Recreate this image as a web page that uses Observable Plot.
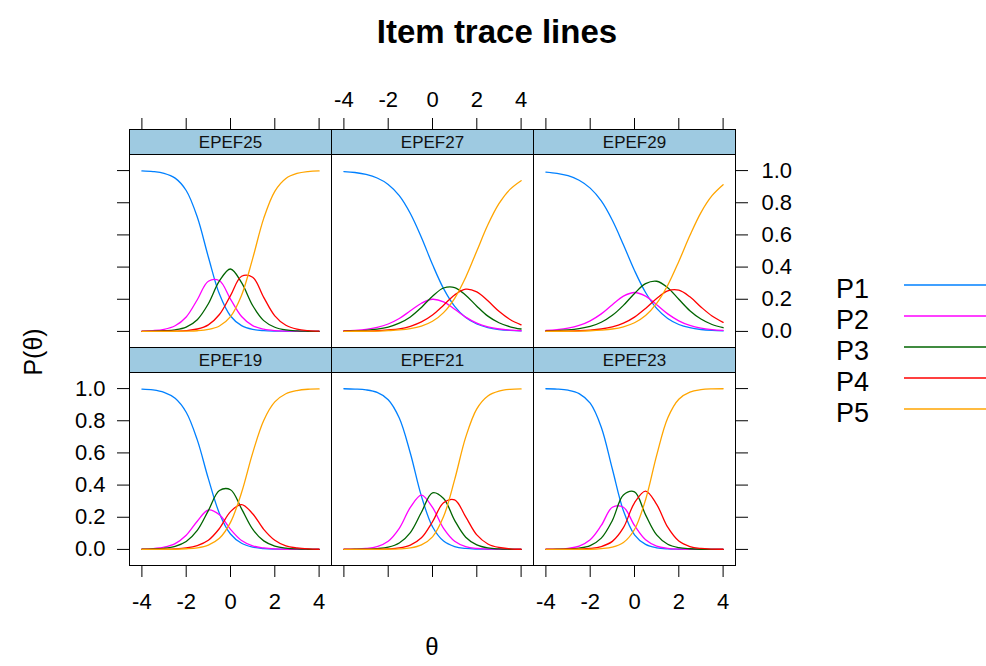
<!DOCTYPE html>
<html>
<head>
<meta charset="utf-8">
<script src="https://cdn.jsdelivr.net/npm/d3@7"></script>
<script src="https://cdn.jsdelivr.net/npm/@observablehq/plot@0.6"></script>
<style>
  body { margin: 0; background: #fff; }
  #fig { position: relative; width: 986px; height: 666px; overflow: hidden;
         font-family: "Liberation Sans", Arial, Helvetica, sans-serif; color: #000; }
  #fig svg { position: absolute; overflow: visible; }
</style>
</head>
<body>
<div id="fig"></div>
<script>
// Ability grid on which the trace lines are tabulated
const theta = [-4, -3.5, -3, -2.5, -2, -1.5, -1, -0.5, 0, 0.5, 1, 1.5, 2, 2.5, 3, 3.5, 4];
const categories = ["P1", "P2", "P3", "P4", "P5"];
const lineColors = ["#0080ff", "#ff00ff", "#006400", "#ff0000", "#ffa500"];
const xTicks = [-4, -2, 0, 2, 4];
const yTicks = [0, 0.2, 0.4, 0.6, 0.8, 1];

// Panel arrangement (rows top to bottom)
const panelRows = [["EPEF25", "EPEF27", "EPEF29"], ["EPEF19", "EPEF21", "EPEF23"]];

// Category response probabilities per item
const EPEF25 = {
  P1: [0.998,0.994,0.983,0.953,0.876,0.711,0.463,0.232,0.096,0.036,0.013,0.005,0.002,0.001,0,0,0],
  P2: [0.002,0.005,0.013,0.035,0.090,0.197,0.312,0.315,0.201,0.093,0.036,0.014,0.005,0.002,0.001,0,0],
  P3: [0,0.001,0.004,0.010,0.027,0.073,0.172,0.314,0.388,0.303,0.161,0.067,0.026,0.009,0.003,0.001,0],
  P4: [0,0,0.001,0.002,0.005,0.015,0.041,0.105,0.223,0.343,0.337,0.212,0.097,0.038,0.014,0.005,0.002],
  P5: [0,0,0,0.001,0.002,0.004,0.012,0.034,0.092,0.225,0.453,0.703,0.871,0.951,0.982,0.994,0.998]
};
const EPEF27 = {
  P1: [0.994,0.988,0.976,0.954,0.914,0.844,0.733,0.584,0.416,0.266,0.156,0.086,0.046,0.024,0.012,0.006,0.003],
  P2: [0.004,0.007,0.013,0.025,0.046,0.080,0.128,0.175,0.200,0.184,0.138,0.089,0.051,0.028,0.015,0.008,0.004],
  P3: [0.002,0.004,0.007,0.014,0.027,0.051,0.090,0.149,0.219,0.270,0.273,0.225,0.157,0.095,0.054,0.029,0.015],
  P4: [0.001,0.001,0.002,0.004,0.009,0.016,0.032,0.059,0.102,0.163,0.227,0.263,0.246,0.190,0.125,0.074,0.041],
  P5: [0,0.001,0.001,0.002,0.005,0.009,0.017,0.033,0.063,0.117,0.206,0.337,0.500,0.663,0.794,0.883,0.937]
};
const EPEF29 = {
  P1: [0.991,0.983,0.968,0.940,0.891,0.811,0.691,0.539,0.379,0.242,0.143,0.080,0.043,0.023,0.012,0.006,0.003],
  P2: [0.006,0.011,0.020,0.037,0.066,0.109,0.166,0.219,0.242,0.219,0.166,0.109,0.066,0.037,0.020,0.011,0.006],
  P3: [0.003,0.005,0.009,0.017,0.031,0.057,0.100,0.162,0.236,0.297,0.312,0.272,0.200,0.129,0.077,0.043,0.023],
  P4: [0.001,0.001,0.002,0.004,0.008,0.015,0.028,0.051,0.089,0.143,0.205,0.252,0.256,0.215,0.152,0.096,0.056],
  P5: [0,0.001,0.001,0.002,0.004,0.008,0.015,0.029,0.054,0.099,0.174,0.287,0.435,0.596,0.739,0.844,0.912]
};
const EPEF19 = {
  P1: [0.997,0.992,0.977,0.940,0.853,0.681,0.440,0.224,0.096,0.038,0.014,0.005,0.002,0.001,0,0,0],
  P2: [0.002,0.005,0.014,0.036,0.088,0.175,0.245,0.215,0.125,0.055,0.022,0.009,0.003,0.001,0.001,0,0],
  P3: [0.001,0.003,0.007,0.019,0.049,0.118,0.241,0.366,0.371,0.252,0.126,0.053,0.021,0.008,0.003,0.001,0],
  P4: [0,0,0.001,0.003,0.009,0.024,0.057,0.130,0.235,0.278,0.222,0.125,0.057,0.022,0.009,0.003,0.001],
  P5: [0,0,0.001,0.001,0.004,0.010,0.027,0.069,0.168,0.354,0.599,0.802,0.917,0.968,0.988,0.996,0.998]
};
const EPEF21 = {
  P1: [0.999,0.997,0.992,0.976,0.931,0.817,0.598,0.331,0.141,0.052,0.018,0.006,0.002,0.001,0,0,0],
  P2: [0.001,0.002,0.006,0.018,0.051,0.131,0.261,0.338,0.261,0.131,0.051,0.018,0.006,0.002,0.001,0,0],
  P3: [0,0.001,0.002,0.005,0.014,0.040,0.105,0.231,0.352,0.317,0.181,0.076,0.028,0.009,0.003,0.001,0],
  P4: [0,0,0,0.001,0.003,0.009,0.027,0.072,0.172,0.290,0.308,0.202,0.090,0.034,0.012,0.004,0.001],
  P5: [0,0,0,0,0.001,0.003,0.009,0.028,0.078,0.204,0.434,0.698,0.874,0.954,0.984,0.995,0.998]
};
const EPEF23 = {
  P1: [0.999,0.997,0.990,0.969,0.909,0.760,0.500,0.240,0.091,0.031,0.010,0.003,0.001,0,0,0,0],
  P2: [0.001,0.002,0.007,0.021,0.060,0.149,0.262,0.262,0.149,0.060,0.021,0.007,0.002,0.001,0,0,0],
  P3: [0,0.001,0.003,0.008,0.024,0.070,0.180,0.338,0.358,0.215,0.090,0.032,0.011,0.004,0.001,0,0],
  P4: [0,0,0.001,0.002,0.006,0.018,0.050,0.135,0.290,0.362,0.280,0.138,0.052,0.018,0.006,0.002,0.001],
  P5: [0,0,0,0.001,0.001,0.005,0.014,0.043,0.124,0.309,0.585,0.817,0.934,0.978,0.993,0.998,0.999]
};
const items = { EPEF25, EPEF27, EPEF29, EPEF19, EPEF21, EPEF23 };

// Trellis geometry (pixels)
const gridLeft = 129, gridTop = 129;
const panelW = 202, stripH = 25, panelH = 193;
const M = { top: 60, right: 80, bottom: 70, left: 80 };
const tickFont = 22;

const fig = document.getElementById("fig");

function tidy(name) {
  const d = items[name];
  return categories.flatMap(k => theta.map((t, i) => ({ theta: t, p: d[k][i], cat: k })));
}

function panel(name, r, c) {
  const labelX = r === 0 ? c === 1 : c !== 1;   // alternating x labels
  const labelY = c === 0 ? r === 1 : r === 0;   // alternating y labels
  const xFmt = labelX ? (d => String(d)) : (() => "");
  const yFmt = labelY ? d3.format(".1f") : (() => "");
  const marks = [
    Plot.frame({ fill: "#9ECAE1", insetBottom: panelH }),
    Plot.line(tidy(name), { x: "theta", y: "p", z: "cat", stroke: "cat",
                             curve: "catmull-rom", strokeWidth: 1.3 }),
    Plot.frame({ stroke: "#000", insetBottom: panelH }),
    Plot.frame({ stroke: "#000" }),
    Plot.text([name], { frameAnchor: "top", lineAnchor: "middle", dy: stripH / 2 + 1,
                        text: d => d, fontSize: 17, fill: "#111" }),
    r === 0
      ? Plot.axisX(xTicks, { anchor: "top", tickSize: 12, tickPadding: 11,
                             tickFormat: xFmt, label: null, fontSize: tickFont })
      : Plot.axisX(xTicks, { anchor: "bottom", tickSize: 12, tickPadding: 16,
                             tickFormat: xFmt, label: null, fontSize: tickFont })
  ];
  if (c === 0) marks.push(Plot.axisY(yTicks, { anchor: "left", tickSize: 12, tickPadding: 12,
                            tickFormat: yFmt, label: null, fontSize: tickFont }));
  if (c === 2) marks.push(Plot.axisY(yTicks, { anchor: "right", tickSize: 12, tickPadding: 14,
                            tickFormat: yFmt, label: null, fontSize: tickFont }));
  const svg = Plot.plot({
    width: panelW + M.left + M.right,
    height: stripH + panelH + M.top + M.bottom,
    marginTop: M.top, marginRight: M.right, marginBottom: M.bottom, marginLeft: M.left,
    style: { fontFamily: "Liberation Sans, Arial, sans-serif", fontSize: "22px",
             color: "#000", background: "transparent", overflow: "visible" },
    x: { domain: [-4.56, 4.56] },
    y: { domain: [-0.1, 1.1], range: [M.top + stripH + panelH, M.top + stripH],
         axis: c === 1 ? null : undefined },
    color: { domain: categories, range: lineColors },
    marks
  });
  svg.style.left = (gridLeft + c * panelW - M.left) + "px";
  svg.style.top = (gridTop + r * (stripH + panelH) - M.top) + "px";
  fig.appendChild(svg);
}

// Titles, axis labels and legend
const deco = d3.create("svg").attr("width", 986).attr("height", 666)
  .style("left", "0px").style("top", "0px")
  .attr("font-family", "Liberation Sans, Arial, sans-serif");
deco.append("text").attr("x", 497).attr("y", 43).attr("text-anchor", "middle")
  .attr("font-size", 33).attr("font-weight", "bold").text("Item trace lines");
deco.append("text").attr("x", 432).attr("y", 655).attr("text-anchor", "middle")
  .attr("font-size", 24).text("θ");
deco.append("text").attr("transform", "translate(42,352) rotate(-90)")
  .attr("text-anchor", "middle").attr("font-size", 25).text("P(θ)");
const leg = deco.append("g");
categories.forEach((k, i) => {
  const y = 285 + i * 31;
  leg.append("text").attr("x", 836).attr("y", y + 13).attr("font-size", 27).text(k);
  leg.append("line").attr("x1", 904).attr("x2", 986).attr("y1", y).attr("y2", y)
    .attr("stroke", lineColors[i]).attr("stroke-width", 1.3);
});
fig.appendChild(deco.node());

panelRows.forEach((row, r) => row.forEach((name, c) => panel(name, r, c)));
</script>
</body>
</html>
